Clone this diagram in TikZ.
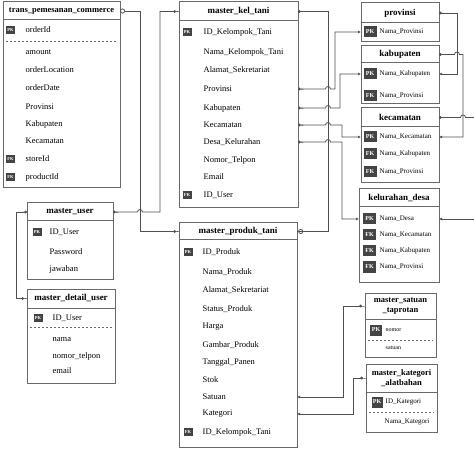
\documentclass[tikz,border=0pt]{standalone}
\usepackage{fontspec}
\setmainfont{Liberation Serif}
\usepackage{xcolor}
\usetikzlibrary{arrows.meta}
\definecolor{boxgray}{RGB}{105,105,105}
\definecolor{linegray}{RGB}{80,80,80}
\definecolor{keygray}{RGB}{68,68,68}
\newcommand{\rowfont}{\fontsize{8.5}{10}\selectfont}
\newcommand{\smallrow}{\fontsize{7}{8}\selectfont}
\newcommand{\tinyrow}{\fontsize{6}{7}\selectfont}

\begin{document}
\begin{tikzpicture}[
  x=1pt,y=-1pt,
  font=\rowfont,
  dotS/.tip={Rectangle[length=3pt,width=0.8pt]Circle[length=2.8pt]},
  dotE/.tip={Circle[length=2.8pt]Rectangle[length=3pt,width=0.8pt]},
  ringS/.tip={Rectangle[length=1.2pt,width=0.8pt]Circle[open,length=5pt]},
  ringE/.tip={Circle[open,length=5pt]Rectangle[length=1.2pt,width=0.8pt]},
  rowtip/.tip={Latex[length=3pt,width=3pt]},
  hdr/.style={draw=boxgray, line width=1pt, fill=white, anchor=north west,
              inner sep=0pt, outer sep=0pt, align=center,
              font=\bfseries\fontsize{9}{10}\selectfont},
  tbody/.style={draw=boxgray, line width=1pt, fill=white, anchor=north west,
                inner sep=0pt, outer sep=0pt},
  field/.style={anchor=west, inner sep=0.5pt, text=black},
  sfield/.style={field, font=\smallrow},
  tfield/.style={field, font=\tinyrow},
  key/.style={fill=keygray, text=white, inner sep=0pt, minimum width=9pt,
              minimum height=8pt, font=\bfseries\fontsize{4.5}{5}\selectfont},
  bigkey/.style={key, minimum width=13pt, minimum height=11pt,
                 font=\bfseries\fontsize{6}{6}\selectfont},
  conn/.style={draw=linegray, line width=0.8pt},
  sepline/.style={draw=boxgray, line width=0.6pt, dash pattern=on 2pt off 2pt},
  hop/.style={insert path={arc[start angle=180,end angle=360,radius=2.5]}}
]
\useasboundingbox (0,0) rectangle (474,457);

% trans_pemesanan_commerce
\node[hdr, minimum width=117pt, minimum height=18pt,
      font=\bfseries\fontsize{8.5}{10}\selectfont] (trans) at (3,2) {trans\_pemesanan\_commerce};
\node[tbody, minimum width=117pt, minimum height=168pt] (trans-b) at (trans.south west) {};
\node[key] (trans-k1) at (10.5,30) {PK};
\node[field] (trans-oid) at (25,30) {orderId};
\draw[sepline] (6,41) -- (117,41);
\node[field] (trans-amt) at (25,52) {amount};
\node[field] (trans-loc) at (25,70) {orderLocation};
\node[field] (trans-date) at (25,88) {orderDate};
\node[field] (trans-prov) at (25,107) {Provinsi};
\node[field] (trans-kab) at (25,124) {Kabupaten};
\node[field] (trans-kec) at (25,141) {Kecamatan};
\node[key] (trans-k2) at (10.5,159) {FK};
\node[field] (trans-store) at (25,159) {storeId};
\node[key] (trans-k3) at (10.5,177) {FK};
\node[field] (trans-prod) at (25,177) {productId};

% master_kel_tani
\node[hdr, minimum width=119pt, minimum height=19pt] (kel) at (179,2) {master\_kel\_tani};
\node[tbody, minimum width=119pt, minimum height=187pt] (kel-b) at (kel.south west) {};
\node[key] (kel-k1) at (187,32) {PK};
\node[field] (kel-id) at (203,32) {ID\_Kelompok\_Tani};
\node[field] (kel-nama) at (203,52) {Nama\_Kelompok\_Tani};
\node[field] (kel-alamat) at (203,70) {Alamat\_Sekretariat};
\node[field] (kel-prov) at (203,89) {Provinsi};
\node[field] (kel-kab) at (203,108) {Kabupaten};
\node[field] (kel-kec) at (203,125) {Kecamatan};
\node[field] (kel-desa) at (203,142) {Desa\_Kelurahan};
\node[field] (kel-telp) at (203,160) {Nomor\_Telpon};
\node[field] (kel-mail) at (203,177) {Email};
\node[key] (kel-k2) at (187,195) {FK};
\node[field] (kel-user) at (203,195) {ID\_User};

% master_user
\node[hdr, minimum width=86pt, minimum height=18pt] (user) at (27,203) {master\_user};
\node[tbody, minimum width=86pt, minimum height=58pt] (user-b) at (user.south west) {};
\node[key] (user-k1) at (37,232) {PK};
\node[field] (user-id) at (49,232) {ID\_User};
\node[field] (user-pass) at (49,252) {Password};
\node[field] (user-jwb) at (49,269) {jawaban};

% master_detail_user
\node[hdr, minimum width=88pt, minimum height=19pt] (det) at (27,289) {master\_detail\_user};
\node[tbody, minimum width=88pt, minimum height=75pt] (det-b) at (det.south west) {};
\node[key] (det-k1) at (38,318) {PK};
\node[field] (det-id) at (52,318) {ID\_User};
\draw[sepline] (30,327) -- (112,327);
\node[field] (det-nama) at (52,340) {nama};
\node[field] (det-telp) at (52,356) {nomor\_telpon};
\node[field] (det-mail) at (52,371) {email};

% master_produk_tani
\node[hdr, minimum width=118pt, minimum height=17pt] (prod) at (179,223) {master\_produk\_tani};
\node[tbody, minimum width=118pt, minimum height=207pt] (prod-b) at (prod.south west) {};
\node[key] (prod-k1) at (188,252) {PK};
\node[field] (prod-id) at (202,252) {ID\_Produk};
\node[field] (prod-nama) at (202,272) {Nama\_Produk};
\node[field] (prod-alamat) at (202,290) {Alamat\_Sekretariat};
\node[field] (prod-status) at (202,309) {Status\_Produk};
\node[field] (prod-harga) at (202,327) {Harga};
\node[field] (prod-gbr) at (202,345) {Gambar\_Produk};
\node[field] (prod-tgl) at (202,362) {Tanggal\_Panen};
\node[field] (prod-stok) at (202,380) {Stok};
\node[field] (prod-sat) at (202,397) {Satuan};
\node[field] (prod-kat) at (202,414) {Kategori};
\node[key] (prod-k2) at (188,432) {FK};
\node[field] (prod-kel) at (202,432) {ID\_Kelompok\_Tani};

% provinsi
\node[hdr, minimum width=78pt, minimum height=20pt] (prv) at (361,3) {provinsi};
\node[tbody, minimum width=78pt, minimum height=19pt] (prv-b) at (prv.south west) {};
\node[bigkey] (prv-k1) at (370,32) {PK};
\node[sfield] (prv-nama) at (379,32) {Nama\_Provinsi};

% kabupaten
\node[hdr, minimum width=78pt, minimum height=17pt] (kab) at (361,46) {kabupaten};
\node[tbody, minimum width=78pt, minimum height=41pt] (kab-b) at (kab.south west) {};
\node[bigkey] (kab-k1) at (370,74) {PK};
\node[sfield] (kab-nama) at (379,74) {Nama\_Kabupaten};
\node[bigkey] (kab-k2) at (370,96) {FK};
\node[sfield] (kab-prov) at (379,96) {Nama\_Provinsi};

% kecamatan
\node[hdr, minimum width=78pt, minimum height=19pt] (kec) at (361,108) {kecamatan};
\node[tbody, minimum width=78pt, minimum height=56pt] (kec-b) at (kec.south west) {};
\node[bigkey] (kec-k1) at (370,137) {PK};
\node[sfield] (kec-nama) at (379,137) {Nama\_Kecamatan};
\node[bigkey] (kec-k2) at (370,154) {FK};
\node[sfield] (kec-kab) at (379,154) {Nama\_Kabupaten};
\node[bigkey] (kec-k3) at (370,172) {FK};
\node[sfield] (kec-prov) at (379,172) {Nama\_Provinsi};

% kelurahan_desa
\node[hdr, minimum width=80pt, minimum height=18pt] (desa) at (359,189) {kelurahan\_desa};
\node[tbody, minimum width=80pt, minimum height=75pt] (desa-b) at (desa.south west) {};
\node[bigkey] (desa-k1) at (369.5,219) {PK};
\node[sfield] (desa-nama) at (379,219) {Nama\_Desa};
\node[bigkey] (desa-k2) at (369.5,235) {FK};
\node[sfield] (desa-kec) at (379,235) {Nama\_Kecamatan};
\node[bigkey] (desa-k3) at (369.5,251) {FK};
\node[sfield] (desa-kab) at (379,251) {Nama\_Kabupaten};
\node[bigkey] (desa-k4) at (369.5,267) {FK};
\node[sfield] (desa-prov) at (379,267) {Nama\_Provinsi};

% master_satuan_taprotan
\node[hdr, minimum width=71pt, minimum height=26pt,
      font=\bfseries\fontsize{8.5}{10}\selectfont] (sat) at (365,293) {master\_satuan\\\_taprotan};
\node[tbody, minimum width=71pt, minimum height=38pt] (sat-b) at (sat.south west) {};
\node[bigkey, minimum width=12pt] (sat-k1) at (376,330) {PK};
\node[tfield] (sat-no) at (385,330) {nomor};
\draw[sepline] (368,340) -- (433,340);
\node[tfield] (sat-nama) at (385,348) {satuan};

% master_kategori_alatbahan
\node[hdr, minimum width=71pt, minimum height=28pt,
      font=\bfseries\fontsize{8.5}{10}\selectfont] (kat) at (366,364) {master\_kategori\\\_alatbahan};
\node[tbody, minimum width=71pt, minimum height=40pt] (kat-b) at (kat.south west) {};
\node[bigkey, minimum width=11pt] (kat-k1) at (377,402) {PK};
\node[sfield] (kat-id) at (385,402) {ID\_Kategori};
\draw[sepline] (369,412) -- (434,412);
\node[sfield] (kat-nama) at (384,422) {Nama\_Kategori};

% off-picture ends on the right
\coordinate (kecout) at (474,117.5);
\coordinate (desaout) at (474,219);

% relations
\draw[conn, ringS-dotE] (trans.east) -| (140,231.5) -- (prod.west);
\draw[conn, dotS-dotE] (user.east) -- (137.5,212) [hop] -| (160,11.5) -- (kel.west);
\draw[conn, dotS-ringE] (kel.east) -| (328,231.5) -- (prod.east);
\draw[conn, dotS-dotE] (user.west) -| (16,298.5) -- (det.west);

\draw[conn, dotS-rowtip] (kel-prov -| kel-b.east) -- (325.5,89) [hop] -| (335,32) -- (prv-nama -| prv-b.west);
\draw[conn, dotS-rowtip] (kel-kab -| kel-b.east) -- (325.5,108) [hop] -| (340,74) -- (kab-nama -| kab-b.west);
\draw[conn, dotS-rowtip] (kel-kec -| kel-b.east) -- (325.5,125) [hop] -| (342,137) -- (kec-nama -| kec-b.west);
\draw[conn, dotS-rowtip] (kel-desa -| kel-b.east) -- (325.5,142) [hop] -| (342,219) -- (desa-nama -| desa-b.west);

\draw[conn, dotS-rowtip] (prv.east) -| (457,74) -- (kab-nama -| kab-b.east);
\draw[conn, dotS-rowtip] (kab.east) -- (454.5,54.5) [hop] -| (463,137) -- (kec-nama -| kec-b.east);
\draw[conn, dotS-] (kec.east) -- (460.5,117.5) [hop] -- (kecout);
\draw[conn, rowtip-] (desa-nama -| desa-b.east) -- (desaout);

\draw[conn, rowtip-dotE] (prod-sat -| prod-b.east) -| (343,306) -- (sat.west);
\draw[conn, rowtip-dotE] (prod-kat -| prod-b.east) -| (353,378) -- (kat.west);

\end{tikzpicture}
\end{document}
